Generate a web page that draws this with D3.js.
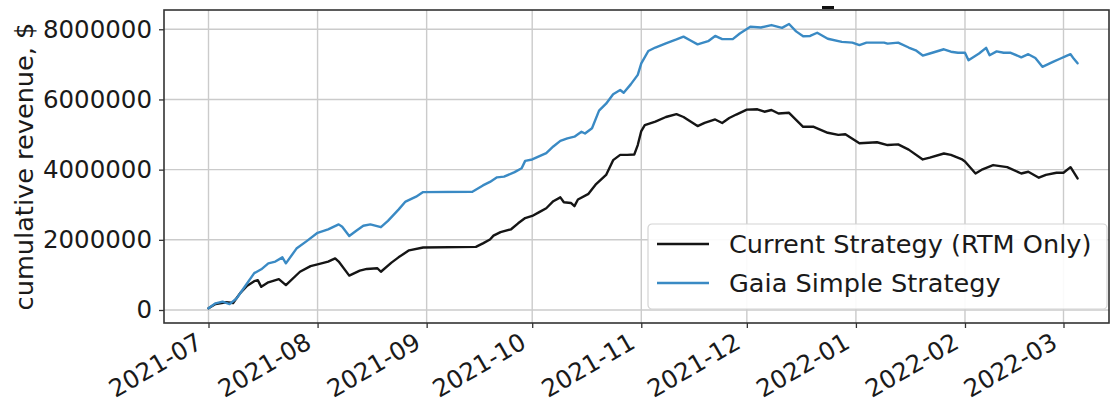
<!DOCTYPE html>
<html>
<head>
<meta charset="utf-8">
<script src="https://cdn.jsdelivr.net/npm/d3@7"></script>
<style>
  body { margin: 0; background: #fff; }
  svg { display: block; }
  text { font-family: "DejaVu Sans", sans-serif; }
</style>
</head>
<body>
<svg width="1111" height="404"></svg>
<script>
// cumulative revenue, millions of $
const currentDates = [
  "2021-07-01","2021-07-03","2021-07-06","2021-07-08","2021-07-10","2021-07-12","2021-07-14","2021-07-15",
  "2021-07-16","2021-07-18","2021-07-21","2021-07-23","2021-07-27","2021-07-30","2021-08-01","2021-08-04",
  "2021-08-06","2021-08-07","2021-08-10","2021-08-13","2021-08-15","2021-08-18","2021-08-19","2021-08-22",
  "2021-08-24","2021-08-27","2021-08-31","2021-09-15","2021-09-17","2021-09-19","2021-09-20","2021-09-22",
  "2021-09-25","2021-09-27","2021-09-29","2021-10-01","2021-10-03","2021-10-05","2021-10-07","2021-10-09",
  "2021-10-10","2021-10-12","2021-10-13","2021-10-14","2021-10-17","2021-10-19","2021-10-22","2021-10-24",
  "2021-10-26","2021-10-28","2021-10-30","2021-10-31","2021-11-01","2021-11-02","2021-11-05","2021-11-08",
  "2021-11-11","2021-11-13","2021-11-17","2021-11-19","2021-11-22","2021-11-24","2021-11-26","2021-11-28",
  "2021-12-01","2021-12-04","2021-12-06","2021-12-08","2021-12-10","2021-12-13","2021-12-17","2021-12-20",
  "2021-12-24","2021-12-27","2021-12-29","2022-01-02","2022-01-07","2022-01-10","2022-01-13","2022-01-16",
  "2022-01-20","2022-01-22","2022-01-26","2022-01-28","2022-01-31","2022-02-01","2022-02-04","2022-02-06",
  "2022-02-09","2022-02-13","2022-02-17","2022-02-19","2022-02-22","2022-02-24","2022-02-27","2022-03-01",
  "2022-03-03","2022-03-05"
]
const currentRevenue = [
  0.05, 0.17, 0.22, 0.20, 0.48, 0.69, 0.82, 0.85,
  0.66, 0.79, 0.88, 0.71, 1.09, 1.25, 1.30, 1.38,
  1.47, 1.38, 0.98, 1.12, 1.17, 1.19, 1.09, 1.35,
  1.50, 1.70, 1.78, 1.80, 1.90, 2.01, 2.12, 2.22,
  2.30, 2.47, 2.62, 2.68, 2.79, 2.90, 3.10, 3.21,
  3.07, 3.05, 2.96, 3.15, 3.31, 3.57, 3.85, 4.27,
  4.42, 4.42, 4.43, 4.70, 5.10, 5.27, 5.37, 5.50,
  5.58, 5.50, 5.24, 5.33, 5.43, 5.33, 5.47, 5.57,
  5.71, 5.72, 5.65, 5.70, 5.60, 5.62, 5.22, 5.22,
  5.05, 4.99, 5.01, 4.75, 4.78, 4.70, 4.72, 4.57,
  4.29, 4.34, 4.46, 4.42, 4.30, 4.23, 3.89, 4.01,
  4.13, 4.07, 3.89, 3.94, 3.77, 3.85, 3.91, 3.91,
  4.07, 3.75
]

const gaiaDates = [
  "2021-07-01","2021-07-03","2021-07-05","2021-07-07","2021-07-09","2021-07-11","2021-07-14","2021-07-16",
  "2021-07-18","2021-07-20","2021-07-22","2021-07-23","2021-07-26","2021-07-29","2021-08-01","2021-08-04",
  "2021-08-07","2021-08-08","2021-08-10","2021-08-12","2021-08-14","2021-08-16","2021-08-19","2021-08-21",
  "2021-08-24","2021-08-26","2021-08-29","2021-08-31","2021-09-14","2021-09-17","2021-09-19","2021-09-21",
  "2021-09-23","2021-09-26","2021-09-28","2021-09-29","2021-10-01","2021-10-05","2021-10-07","2021-10-09",
  "2021-10-11","2021-10-13","2021-10-15","2021-10-16","2021-10-18","2021-10-20","2021-10-22","2021-10-24",
  "2021-10-26","2021-10-27","2021-10-29","2021-10-31","2021-11-01","2021-11-03","2021-11-05","2021-11-08",
  "2021-11-11","2021-11-13","2021-11-15","2021-11-17","2021-11-20","2021-11-22","2021-11-24","2021-11-27",
  "2021-11-29","2021-12-02","2021-12-05","2021-12-08","2021-12-11","2021-12-13","2021-12-15","2021-12-17",
  "2021-12-19","2021-12-21","2021-12-24","2021-12-28","2021-12-31","2022-01-02","2022-01-04","2022-01-09",
  "2022-01-10","2022-01-13","2022-01-16","2022-01-18","2022-01-20","2022-01-22","2022-01-26","2022-01-28",
  "2022-01-30","2022-02-01","2022-02-02","2022-02-05","2022-02-07","2022-02-08","2022-02-10","2022-02-12",
  "2022-02-14","2022-02-17","2022-02-19","2022-02-21","2022-02-23","2022-02-26","2022-02-28","2022-03-02",
  "2022-03-03","2022-03-04","2022-03-05"
]
const gaiaRevenue = [
  0.05, 0.19, 0.24, 0.17, 0.33, 0.62, 1.05, 1.16,
  1.33, 1.38, 1.50, 1.33, 1.75, 1.97, 2.20, 2.30,
  2.44, 2.37, 2.11, 2.26, 2.40, 2.44, 2.36, 2.54,
  2.86, 3.09, 3.23, 3.36, 3.37, 3.55, 3.65, 3.78,
  3.80, 3.93, 4.04, 4.25, 4.29, 4.47, 4.66, 4.82,
  4.89, 4.94, 5.08, 5.03, 5.18, 5.68, 5.88, 6.15,
  6.27, 6.19, 6.43, 6.70, 7.03, 7.38, 7.48, 7.60,
  7.71, 7.79, 7.68, 7.57, 7.66, 7.81, 7.72, 7.72,
  7.88, 8.07, 8.05, 8.12, 8.04, 8.15, 7.94, 7.80,
  7.81, 7.90, 7.73, 7.64, 7.62, 7.55, 7.62, 7.62,
  7.59, 7.62, 7.48, 7.40, 7.25, 7.31, 7.43, 7.36,
  7.33, 7.33, 7.12, 7.31, 7.47, 7.26, 7.37, 7.33,
  7.33, 7.20, 7.29, 7.18, 6.93, 7.07, 7.16, 7.25,
  7.29, 7.15, 7.03
]

const yTicks = [0, 2000000, 4000000, 6000000, 8000000]
const seriesNames = ["Current Strategy (RTM Only)", "Gaia Simple Strategy"]
const seriesColors = ["#151515", "#3a8ac4"]
const yLabel = "cumulative revenue, $"

const svg = d3.select("svg")
const width = 1111, height = 404
const margin = { top: 10, right: 2, bottom: 81, left: 164 }
const tickFont = 24.5
const labelFont = 25.6

const parse = d3.utcParse("%Y-%m-%d")

// calibrate the time scale on two month ticks, then widen to the frame
const ref = d3.scaleUtc()
  .domain([parse("2021-07-01"), parse("2022-03-01")])
  .range([208.5, 1063.5])

const x = d3.scaleUtc()
  .domain([ref.invert(margin.left), ref.invert(width - margin.right)])
  .range([margin.left, width - margin.right])

const y = d3.scaleLinear()
  .domain([-370500, 8549000])
  .range([height - margin.bottom, margin.top])

const xTicks = x.ticks(d3.utcMonth.every(1))

// grid
svg.append("g").selectAll("line").data(xTicks).join("line")
  .attr("x1", d => x(d)).attr("x2", d => x(d))
  .attr("y1", margin.top).attr("y2", height - margin.bottom)
  .attr("stroke", "#cbcbcb").attr("stroke-width", 1.4)

svg.append("g").selectAll("line").data(yTicks).join("line")
  .attr("x1", margin.left).attr("x2", width - margin.right)
  .attr("y1", d => y(d)).attr("y2", d => y(d))
  .attr("stroke", "#cbcbcb").attr("stroke-width", 1.4)

// lines
const series = [
  { name: seriesNames[0], color: seriesColors[0], values: currentDates.map((d, i) => ({ date: parse(d), value: currentRevenue[i] * 1e6 })) },
  { name: seriesNames[1], color: seriesColors[1], values: gaiaDates.map((d, i) => ({ date: parse(d), value: gaiaRevenue[i] * 1e6 })) }
]

const line = d3.line()
  .x(d => x(d.date))
  .y(d => y(d.value))

svg.append("g").selectAll("path").data(series).join("path")
  .attr("d", d => line(d.values))
  .attr("fill", "none")
  .attr("stroke", d => d.color)
  .attr("stroke-width", 2.4)
  .attr("stroke-linejoin", "round")
  .attr("stroke-linecap", "round")

// frame
svg.append("rect")
  .attr("x", margin.left).attr("y", margin.top)
  .attr("width", width - margin.left - margin.right)
  .attr("height", height - margin.top - margin.bottom)
  .attr("fill", "none").attr("stroke", "#333").attr("stroke-width", 1.6)

// axes
const xAxis = svg.append("g")
  .attr("transform", `translate(0,${height - margin.bottom})`)
  .call(d3.axisBottom(x).tickValues(xTicks).tickSize(5).tickFormat(d3.utcFormat("%Y-%m")))
xAxis.select(".domain").remove()
xAxis.selectAll("line").attr("stroke", "#333").attr("stroke-width", 1.3)
xAxis.selectAll("text")
  .attr("y", 0).attr("dy", null)
  .attr("text-anchor", "end")
  .attr("transform", "translate(-5,24) rotate(-30)")
  .attr("font-size", tickFont).attr("fill", "#1a1a1a")
  .attr("font-family", "DejaVu Sans")

const yAxis = svg.append("g")
  .attr("transform", `translate(${margin.left},0)`)
  .call(d3.axisLeft(y).tickValues(yTicks).tickSize(5).tickPadding(7).tickFormat(d3.format("d")))
yAxis.select(".domain").remove()
yAxis.selectAll("line").attr("stroke", "#333").attr("stroke-width", 1.3)
yAxis.selectAll("text")
  .attr("font-size", tickFont).attr("fill", "#1a1a1a")
  .attr("font-family", "DejaVu Sans")

svg.append("text")
  .attr("transform", `translate(33,${(margin.top + height - margin.bottom) / 2}) rotate(-90)`)
  .attr("text-anchor", "middle")
  .attr("font-size", labelFont).attr("fill", "#1a1a1a")
  .text(yLabel)

// stray dash above the frame (cut-off title)
svg.append("rect").attr("x", 822).attr("y", 6).attr("width", 12).attr("height", 3).attr("fill", "#111")

// legend
const legend = svg.append("g").attr("transform", "translate(648,224)")
legend.append("rect")
  .attr("width", 459).attr("height", 85).attr("rx", 4)
  .attr("fill", "#fff").attr("fill-opacity", 0.9)
  .attr("stroke", "#d4d4d4").attr("stroke-width", 1.2)

const item = legend.selectAll("g.item").data(series).join("g")
  .attr("class", "item")
  .attr("transform", (d, i) => `translate(0,${20 + i * 39})`)
item.append("line")
  .attr("x1", 9).attr("x2", 61)
  .attr("stroke", d => d.color).attr("stroke-width", 2.4)
item.append("text")
  .attr("x", 81).attr("dy", "0.35em")
  .attr("font-size", labelFont).attr("fill", "#1a1a1a")
  .text(d => d.name)
</script>
</body>
</html>
